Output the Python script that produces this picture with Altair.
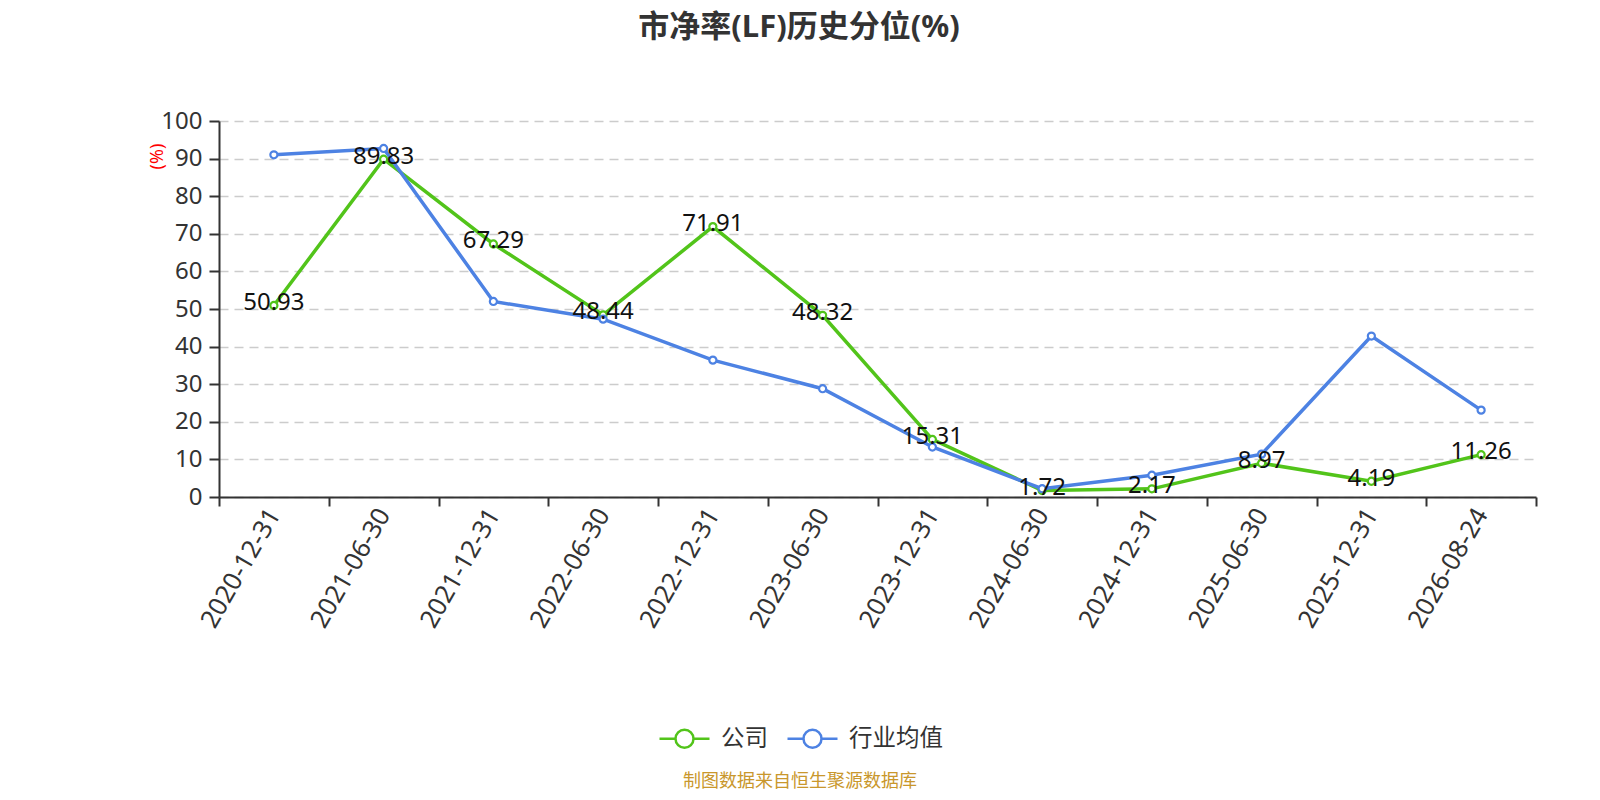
import altair as alt
import pandas as pd

dates = ["2020-12-31", "2021-06-30", "2021-12-31", "2022-06-30", "2022-12-31", "2023-06-30",
         "2023-12-31", "2024-06-30", "2024-12-31", "2025-06-30", "2025-12-31", "2026-08-24"]
company = [50.93, 89.83, 67.29, 48.44, 71.91, 48.32, 15.31, 1.72, 2.17, 8.97, 4.19, 11.26]
industry = [91.0, 92.7, 52.0, 47.3, 36.4, 28.8, 13.3, 2.2, 5.8, 11.4, 42.8, 23.1]
series_names = ["公司", "行业均值"]
series_colors = ["#52c41a", "#4d82e3"]
y_ticks = [0, 10, 20, 30, 40, 50, 60, 70, 80, 90, 100]
title_text = "市净率(LF)历史分位(%)"
footer_text = "制图数据来自恒生聚源数据库"
y_title = "(%)"

FONT = "Noto Sans, Noto Sans CJK SC, sans-serif"
W, H = 1317, 376

df = pd.DataFrame({
    "date": dates * 2,
    "value": company + industry,
    "series": [series_names[0]] * len(dates) + [series_names[1]] * len(dates),
})
df_company = df[df["series"] == series_names[0]].copy()
df_company["label"] = [f"{v:.2f}" for v in company]

x_enc = alt.X("date:N", sort=dates, bandPosition=0.5,
              scale=alt.Scale(type="band", paddingInner=0, paddingOuter=0),
              axis=alt.Axis(title=None, labelAngle=-60, labelFontSize=25.5, labelFont=FONT,
                            labelColor="#333333", tickBand="extent", tickSize=9,
                            tickWidth=2, tickColor="#333333", domainColor="#333333",
                            domainWidth=2, labelPadding=4, grid=False))
y_scale = alt.Scale(domain=[0, 100], nice=False)
y_enc = alt.Y("value:Q", scale=y_scale,
              axis=alt.Axis(values=y_ticks, title=y_title, titleColor="#ff0000",
                            titleFontSize=18, titleFontWeight="normal", titleFont=FONT,
                            titleX=-62, titleY=35, titleAlign="center", titleBaseline="middle",
                            labelFontSize=24, labelFont=FONT, labelColor="#333333",
                            labelOverlap=False,
                            tickSize=10, tickWidth=2, tickColor="#333333",
                            domainColor="#333333", domainWidth=2, labelPadding=7,
                            grid=True, gridColor="#cccccc", gridWidth=1.5, gridDash=[9, 6]))
color_enc = alt.Color("series:N",
                      scale=alt.Scale(domain=series_names, range=series_colors),
                      legend=alt.Legend(title=None, orient="none", direction="horizontal",
                                        legendX=439, legendY=591,
                                        symbolType="M-1,0L-0.36,0M0.36,0L1,0M0.36,0A0.36,0.36,0,1,1,-0.36,0A0.36,0.36,0,1,1,0.36,0Z",
                                        symbolSize=2500, symbolStrokeWidth=2.5,
                                        labelFontSize=23.5, labelFont=FONT, labelColor="#333333",
                                        labelOffset=10, columnPadding=14, padding=0))

lines = []
for name, col in zip(series_names, series_colors):
    sub = alt.Chart(df[df["series"] == name])
    lines.append(sub.mark_line(strokeWidth=3.5).encode(x=x_enc, y=y_enc, color=color_enc))
    lines.append(sub.mark_point(filled=False, fill="white", size=50, strokeWidth=2.2, opacity=1)
                 .encode(x=x_enc, y=y_enc, color=color_enc))

labels = alt.Chart(df_company).mark_text(fontSize=24, font=FONT, color="#111111",
                                         baseline="middle", align="center", dy=-2.5).encode(
    x=x_enc, y=y_enc, text="label:N")

title = alt.Chart(pd.DataFrame({"t": [title_text]})).mark_text(
    fontSize=31, fontWeight="bold", font=FONT, color="#333333", baseline="middle", align="center"
).encode(x=alt.value(580), y=alt.value(-93), text="t:N")

footer = alt.Chart(pd.DataFrame({"t": [footer_text]})).mark_text(
    fontSize=18, font=FONT, color="#c9972c", baseline="middle", align="center"
).encode(x=alt.value(581), y=alt.value(661), text="t:N")

chart = alt.layer(*lines, labels, title, footer).properties(
    width=W, height=H,
    padding={"left": 211, "top": 113, "right": 56, "bottom": 295},
    autosize=alt.AutoSizeParams(type="none"),
    background="white",
).configure_view(stroke=None)

chart.save("out.html", embed_options={"renderer": "svg", "actions": False})
